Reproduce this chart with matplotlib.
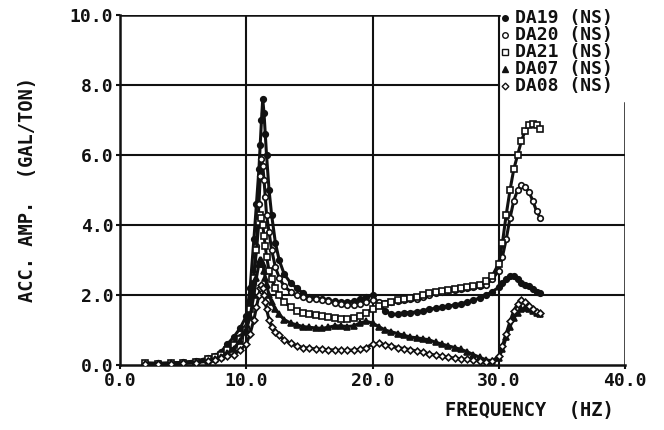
import matplotlib
matplotlib.use("Agg")
import matplotlib.pyplot as plt

freq = [2.0, 3.0, 4.0, 5.0, 6.0, 7.0, 7.5, 8.0, 8.5, 9.0, 9.5, 10.0,
        10.3, 10.6, 10.8, 11.0, 11.1, 11.2, 11.3, 11.4, 11.5, 11.6, 11.8, 12.0,
        12.3, 12.6, 13.0, 13.5, 14.0, 14.5, 15.0,
        15.5, 16.0, 16.5, 17.0, 17.5, 18.0, 18.5, 19.0, 19.5, 20.0,
        20.5, 21.0, 21.5, 22.0, 22.5, 23.0, 23.5, 24.0, 24.5, 25.0,
        25.5, 26.0, 26.5, 27.0, 27.5, 28.0, 28.5, 29.0, 29.5, 30.0,
        30.3, 30.6, 30.9, 31.2, 31.5, 31.8, 32.1, 32.4, 32.7, 33.0, 33.3]

da19 = [0.06, 0.05, 0.06, 0.08, 0.12, 0.2, 0.27, 0.38, 0.6, 0.8, 1.05, 1.4,
        2.2, 3.6, 4.6, 5.6, 6.3, 7.0, 7.6, 7.2, 6.6, 6.0, 5.0, 4.3,
        3.5, 3.0, 2.6, 2.35, 2.2, 2.05, 1.95,
        1.92, 1.88, 1.85, 1.82, 1.8, 1.8, 1.82, 1.88, 1.95, 2.0,
        1.75, 1.55, 1.45, 1.45, 1.5, 1.5, 1.52, 1.55, 1.6, 1.62,
        1.65, 1.68, 1.72, 1.75, 1.8, 1.85, 1.92, 2.0, 2.1, 2.22,
        2.35, 2.45, 2.55, 2.55, 2.45, 2.35, 2.3, 2.25, 2.18, 2.1, 2.05]

da20 = [0.05, 0.05, 0.05, 0.07, 0.1, 0.17, 0.23, 0.3, 0.45, 0.6, 0.8, 1.1,
        1.7, 2.6, 3.4, 4.6, 5.4, 5.9, 5.7, 5.3, 4.8, 4.3, 3.8, 3.3,
        2.8, 2.5, 2.25, 2.1, 2.0, 1.95, 1.9,
        1.88, 1.85, 1.82, 1.78, 1.75, 1.72, 1.72, 1.75, 1.8, 1.85,
        1.8, 1.78, 1.8, 1.82, 1.85, 1.88, 1.9, 1.95, 2.0, 2.05,
        2.1, 2.15, 2.15, 2.18, 2.2, 2.22, 2.25, 2.3, 2.45, 2.7,
        3.1, 3.6, 4.2, 4.7, 5.0, 5.15, 5.1, 4.95, 4.7, 4.4, 4.2]

da21 = [0.05, 0.04, 0.05, 0.07, 0.1, 0.16, 0.22, 0.29, 0.42, 0.56, 0.75, 1.0,
        1.6, 2.5, 3.3, 4.1, 4.3, 4.2, 4.0, 3.7, 3.4, 3.1, 2.7, 2.45,
        2.2, 2.0, 1.8, 1.66, 1.55, 1.5, 1.45,
        1.42, 1.4, 1.37, 1.35, 1.33, 1.32, 1.35, 1.4, 1.5, 1.6,
        1.7, 1.75, 1.8, 1.85, 1.9, 1.92, 1.95, 2.0, 2.05, 2.1,
        2.12, 2.15, 2.18, 2.2, 2.22, 2.25, 2.3, 2.4, 2.55, 2.9,
        3.5, 4.3, 5.0, 5.6, 6.0, 6.4, 6.7, 6.85, 6.9, 6.85, 6.75]

da07 = [0.04, 0.04, 0.05, 0.06, 0.08, 0.13, 0.18, 0.24, 0.34, 0.47, 0.7, 1.0,
        1.4, 2.0, 2.5, 2.9, 3.0, 3.0, 2.9, 2.7, 2.5, 2.3, 2.0, 1.8,
        1.6, 1.45, 1.3, 1.2, 1.15, 1.1, 1.08,
        1.06, 1.05, 1.08, 1.12, 1.12, 1.1, 1.12, 1.2, 1.25, 1.2,
        1.1, 1.0, 0.95, 0.9, 0.85, 0.8, 0.78, 0.75, 0.72, 0.65,
        0.6, 0.55, 0.5, 0.45, 0.38, 0.3, 0.22, 0.15, 0.12, 0.2,
        0.45, 0.8, 1.1, 1.35, 1.5, 1.6, 1.62, 1.6, 1.55, 1.5, 1.45]

da08 = [0.04, 0.04, 0.04, 0.05, 0.07, 0.11, 0.15, 0.2, 0.25, 0.3, 0.42, 0.6,
        0.9, 1.3, 1.65, 2.0, 2.2, 2.3, 2.2, 2.0, 1.8, 1.6, 1.3, 1.1,
        0.95, 0.85, 0.72, 0.62, 0.55, 0.5, 0.48,
        0.46, 0.45, 0.44, 0.43, 0.42, 0.42, 0.43, 0.45, 0.5, 0.6,
        0.62, 0.58, 0.55, 0.5, 0.47, 0.44, 0.4, 0.36, 0.32, 0.28,
        0.25, 0.22, 0.2, 0.18, 0.16, 0.14, 0.12, 0.1, 0.12, 0.25,
        0.55, 0.9, 1.25, 1.55, 1.75, 1.85, 1.8, 1.7, 1.6, 1.52, 1.5]

series_labels = ["DA19 (NS)", "DA20 (NS)", "DA21 (NS)", "DA07 (NS)", "DA08 (NS)"]
x_ticks = [0, 10, 20, 30, 40]
y_ticks = [0, 2, 4, 6, 8, 10]

INK = "#111111"
FONT = "DejaVu Sans Mono"

fig = plt.figure(figsize=(6.64, 4.30), dpi=100)
ax = fig.add_axes([0.181, 0.151, 0.760, 0.814])
ax.set_xlim(0, 40)
ax.set_ylim(0, 10)

styles = [
    dict(marker="o", ms=4.0, mfc=INK, mec=INK),
    dict(marker="o", ms=4.0, mfc="white", mec=INK),
    dict(marker="s", ms=4.0, mfc="white", mec=INK),
    dict(marker="^", ms=4.0, mfc=INK, mec=INK),
    dict(marker="D", ms=3.4, mfc="white", mec=INK),
]
data = [da19, da20, da21, da07, da08]
for vals, st in zip(data, styles):
    ax.plot(freq, vals, color=INK, lw=2.2, mew=1.2, zorder=3, **st)

# grid
for yv in [2, 4, 6]:
    ax.axhline(yv, color=INK, lw=1.5, zorder=1)
ax.axhline(8, xmin=0, xmax=30 / 40, color=INK, lw=1.5, zorder=1)
ax.axhline(10, xmin=0, xmax=30 / 40, color=INK, lw=1.8, zorder=1)
for xv in [10, 20, 30]:
    ax.axvline(xv, color=INK, lw=1.5, zorder=1)

for s in ["top", "right"]:
    ax.spines[s].set_visible(False)
for s in ["left", "bottom"]:
    ax.spines[s].set_linewidth(1.8)
    ax.spines[s].set_color(INK)
ax.axvline(40, ymin=0, ymax=0.75, color=INK, lw=1.8, zorder=1)

ax.set_xticks(x_ticks)
ax.set_yticks(y_ticks)
ax.set_xticklabels([f"{v:.1f}" for v in x_ticks])
ax.set_yticklabels([f"{v:.1f}" for v in y_ticks])
ax.tick_params(direction="out", length=3, width=1.5, color=INK, labelcolor=INK,
               labelsize=13, pad=2)
for lab in ax.get_xticklabels() + ax.get_yticklabels():
    lab.set_fontfamily(FONT)
    lab.set_fontweight("bold")

fig.text(0.042, 0.56, "ACC. AMP.  (GAL/TON)", rotation=90, ha="center", va="center",
         fontsize=13.5, fontweight="bold", family=FONT, color=INK)
fig.text(0.797, 0.045, "FREQUENCY  (HZ)", ha="center", va="center",
         fontsize=13.5, fontweight="bold", family=FONT, color=INK)

# legend drawn manually in figure coords
leg_y = [18, 35, 52, 69, 86]
for lab, st, yp in zip(series_labels, styles, leg_y):
    yf = 1 - yp / 430
    fig.lines.append(matplotlib.lines.Line2D([505 / 664], [yf], transform=fig.transFigure,
                                             linestyle="none", mew=1.0, **st))
    fig.text(515 / 664, yf, lab, ha="left", va="center", fontsize=13,
             fontweight="bold", family=FONT, color=INK)

fig.savefig("out.png", dpi=100)
